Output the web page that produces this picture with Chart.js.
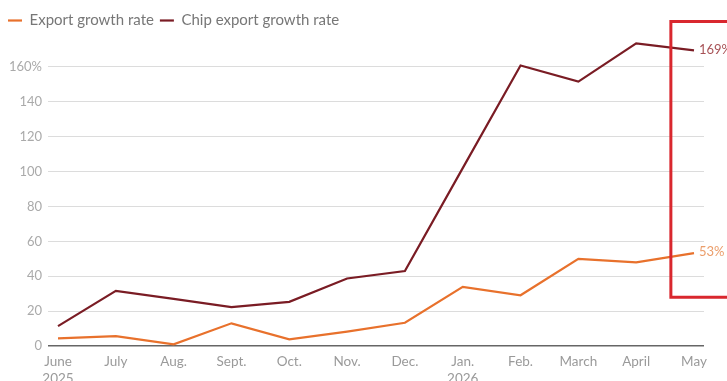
<!DOCTYPE html>
<html lang="en">
<head>
    <meta charset="UTF-8">
    <title>Export growth</title>
    <script src="https://cdn.jsdelivr.net/npm/chart.js"></script>
    <style>
        body { margin: 0; background: #fff; overflow: hidden; }
        #wrap { width: 727px; height: 390px; }
    </style>
</head>
<body>
    <div id="wrap"><canvas id="growthChart" width="727" height="390"></canvas></div>

    <script>
        const months = [['June', '2025'], 'July', 'Aug.', 'Sept.', 'Oct.', 'Nov.', 'Dec.', ['Jan.', '2026'], 'Feb.', 'March', 'April', 'May'];
        const exportGrowth = [4.4, 5.7, 1, 13, 3.8, 8.2, 13.3, 33.9, 29.1, 50, 48, 53.3];
        const chipGrowth = [11.4, 31.6, 27, 22.3, 25.3, 38.7, 43, 102, 160.8, 151.6, 173.5, 169.5];
        const yTicks = [0, 20, 40, 60, 80, 100, 120, 140, 160];
        const endLabels = ['53%', '169%'];

        const FONT = 'Lato, "Open Sans", sans-serif';

        // end-of-line labels and the red highlight box
        const extras = {
            id: 'extras',
            afterDatasetsDraw(chart) {
                const ctx = chart.ctx;
                const colors = ['rgba(232,140,80,0.85)', 'rgba(150,50,55,0.85)'];
                ctx.save();
                ctx.font = '13px ' + FONT;
                ctx.textBaseline = 'middle';
                chart.data.datasets.forEach((ds, i) => {
                    const pts = chart.getDatasetMeta(i).data;
                    const last = pts[pts.length - 1];
                    ctx.fillStyle = colors[i];
                    ctx.fillText(endLabels[i], last.x + 5, last.y - 1);
                });
                const xs = chart.scales.x, ys = chart.scales.y;
                const left = xs.getPixelForValue(10.6);
                const top = ys.getPixelForValue(186);
                const bottom = ys.getPixelForValue(28);
                ctx.strokeStyle = '#d9272e';
                ctx.lineWidth = 3;
                ctx.beginPath();
                ctx.moveTo(chart.width + 5, top);
                ctx.lineTo(left, top);
                ctx.lineTo(left, bottom);
                ctx.lineTo(chart.width + 5, bottom);
                ctx.stroke();
                ctx.restore();
            }
        };

        new Chart(document.getElementById('growthChart'), {
            type: 'line',
            data: {
                datasets: [{
                    label: 'Export growth rate',
                    data: exportGrowth.map((v, i) => ({x: i, y: v})),
                    borderColor: '#e8712c',
                    backgroundColor: '#e8712c',
                    borderWidth: 2.2,
                    pointRadius: 0,
                    tension: 0
                }, {
                    label: 'Chip export growth rate',
                    data: chipGrowth.map((v, i) => ({x: i, y: v})),
                    borderColor: '#7a1c24',
                    backgroundColor: '#7a1c24',
                    borderWidth: 2.2,
                    pointRadius: 0,
                    tension: 0
                }]
            },
            options: {
                responsive: false,
                animation: false,
                layout: { padding: { top: 7, right: 23, left: 2, bottom: 0 } },
                plugins: {
                    tooltip: { enabled: false },
                    legend: {
                        align: 'start',
                        labels: {
                            usePointStyle: true,
                            pointStyle: 'line',
                            pointStyleWidth: 14,
                            boxHeight: 8,
                            padding: 6,
                            color: '#777',
                            font: { family: FONT, size: 15 }
                        }
                    }
                },
                scales: {
                    x: {
                        type: 'linear',
                        min: -0.173,
                        max: 11.173,
                        afterBuildTicks: scale => { scale.ticks = months.map((m, i) => ({value: i})); },
                        afterFit: scale => { scale.height = 44; },
                        grid: { display: false },
                        border: { display: false },
                        ticks: {
                            autoSkip: false,
                            maxRotation: 0,
                            padding: 0,
                            color: '#9a9a9a',
                            font: { family: FONT, size: 13.5 },
                            callback: v => months[v]
                        }
                    },
                    y: {
                        min: 0,
                        max: 176.6,
                        afterBuildTicks: scale => { scale.ticks = yTicks.map(v => ({value: v})); },
                        afterFit: scale => { scale.width = 46; },
                        grid: {
                            drawTicks: false,
                            color: ctx => ctx.tick.value === 0 ? '#666' : '#dcdcdc',
                            lineWidth: ctx => ctx.tick.value === 0 ? 1.5 : 1
                        },
                        border: { display: false },
                        ticks: {
                            padding: 6,
                            color: '#aaa',
                            font: { family: FONT, size: 13 },
                            callback: v => v === 160 ? v + '%' : v
                        }
                    }
                }
            },
            plugins: [extras]
        });
    </script>
</body>
</html>
